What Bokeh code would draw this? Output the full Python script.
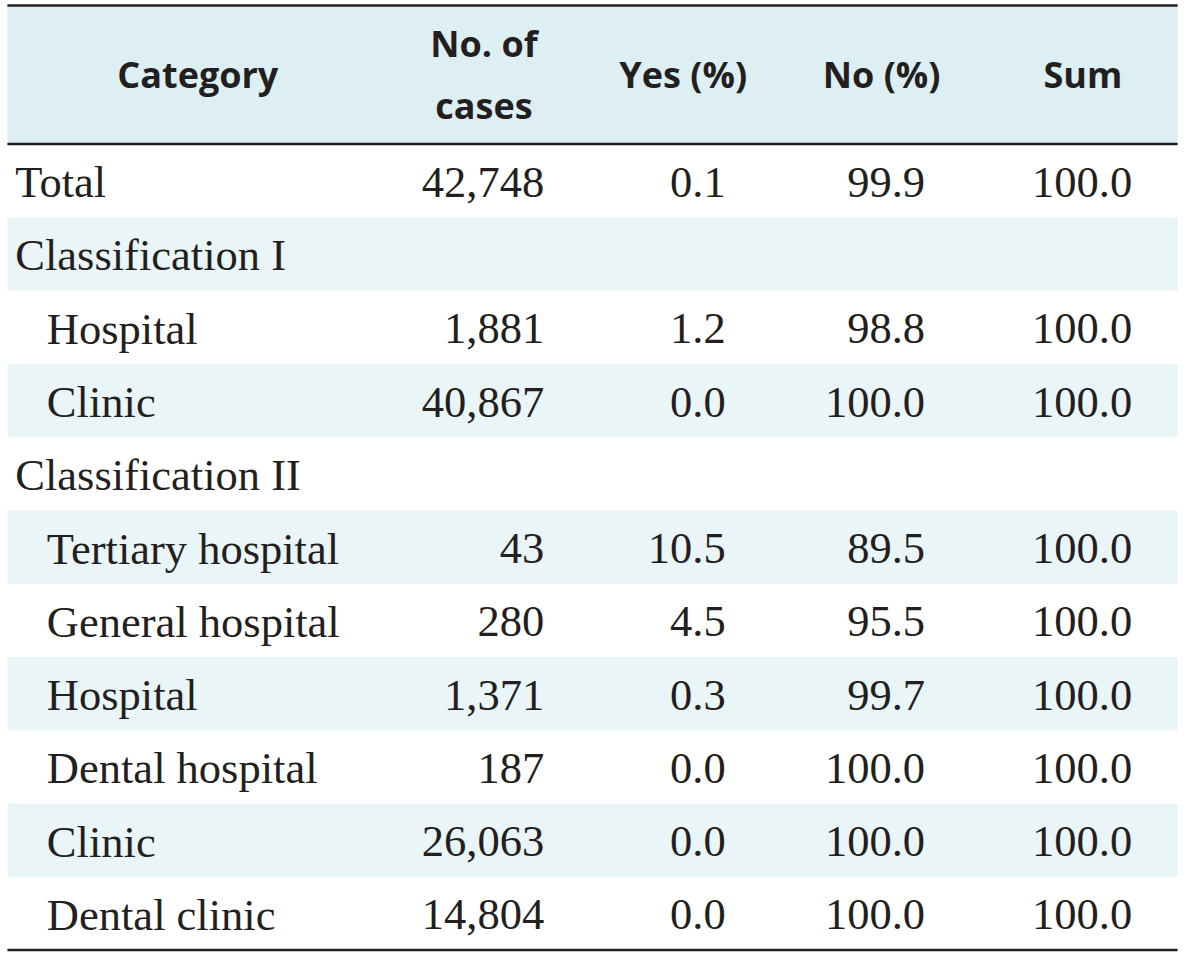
from bokeh.plotting import figure
from bokeh.models import Range1d, Span
from bokeh.core.properties import value
from bokeh.embed import file_html
from bokeh.resources import INLINE

# ---- data ----
categories = ["Total", "Classification I", "Hospital", "Clinic", "Classification II",
              "Tertiary hospital", "General hospital", "Hospital", "Dental hospital",
              "Clinic", "Dental clinic"]
indented = [False, False, True, True, False, True, True, True, True, True, True]
cases = [42748, None, 1881, 40867, None, 43, 280, 1371, 187, 26063, 14804]
yes_pct = [0.1, None, 1.2, 0.0, None, 10.5, 4.5, 0.3, 0.0, 0.0, 0.0]
no_pct = [99.9, None, 98.8, 100.0, None, 89.5, 95.5, 99.7, 100.0, 100.0, 100.0]
sum_pct = [100.0, None, 100.0, 100.0, None, 100.0, 100.0, 100.0, 100.0, 100.0, 100.0]
headers = ["Category", "No. of\ncases", "Yes (%)", "No (%)", "Sum"]

# ---- layout/style ----
X0, X1 = 7, 1193
ROW_PX = 74.5
HEADER_H = 141 / ROW_PX          # header height in row units
TOP_PAD = 146 / ROW_PX           # from top of canvas to header bottom
header_cx = [200, 490, 692, 893, 1097]
num_right = [551, 735, 937, 1147]
HEADER_BG = "#DDEFF3"
STRIPE_BG = "#EAF5F8"
TXT = "#231F20"
BODY_FONT = "Liberation Serif"
HEAD_FONT = "Open Sans"
BODY_SIZE = "44.5px"
HEAD_SIZE = "36px"

n = len(categories)
p = figure(width=1184, height=954, x_range=Range1d(0, 1200),
           y_range=Range1d((970 - 146) / ROW_PX, -TOP_PAD),
           output_backend="svg", toolbar_location=None, min_border=0)
p.axis.visible = False
p.grid.visible = False
p.outline_line_color = None
p.background_fill_color = "white"
p.border_fill_color = "white"

# header band
p.quad(left=[X0], right=[X1], top=[-HEADER_H], bottom=[0], fill_color=HEADER_BG, line_color=None)
# stripes
stripe_rows = [i for i in range(n) if i % 2 == 1]
p.quad(left=[X0] * len(stripe_rows), right=[X1] * len(stripe_rows),
       top=[i + 0.0 for i in stripe_rows], bottom=[i + 1.0 for i in stripe_rows],
       fill_color=STRIPE_BG, line_color=None)

# rules
for loc in [-HEADER_H, 0, n]:
    p.segment(x0=[X0], x1=[X1], y0=[loc], y1=[loc], line_color="#231F20", line_width=2.5)

# header texts
hx, hy, ht = [], [], []
for cx, h in zip(header_cx, headers):
    lines = h.split("\n")
    if len(lines) == 1:
        hx.append(cx); hy.append(-HEADER_H / 2); ht.append(h)
    else:
        hx += [cx, cx]; hy += [-1.37, -0.52]; ht += lines
p.text(x=hx, y=hy, text=ht, text_align="center", text_baseline="middle",
       text_font=value(HEAD_FONT), text_font_style="bold", text_font_size=HEAD_SIZE,
       text_color=TXT)

# category column
cat_x = [47 if ind else 15 for ind in indented]
p.text(x=cat_x, y=[i + 0.52 for i in range(n)], text=categories, text_align="left",
       text_baseline="middle", text_font=value(BODY_FONT), text_font_size=BODY_SIZE,
       text_color=TXT)

# numeric columns
def fmt_int(v):
    return "" if v is None else f"{v:,}"

def fmt_pct(v):
    return "" if v is None else f"{v:.1f}"

cols = [[fmt_int(v) for v in cases], [fmt_pct(v) for v in yes_pct],
        [fmt_pct(v) for v in no_pct], [fmt_pct(v) for v in sum_pct]]
for xr, col in zip(num_right, cols):
    rows = [i for i in range(n) if col[i]]
    p.text(x=[xr] * len(rows), y=[i + 0.52 for i in rows], text=[col[i] for i in rows],
           text_align="right", text_baseline="middle", text_font=value(BODY_FONT),
           text_font_size=BODY_SIZE, text_color=TXT)

open("out.html", "w").write(file_html(p, INLINE))
